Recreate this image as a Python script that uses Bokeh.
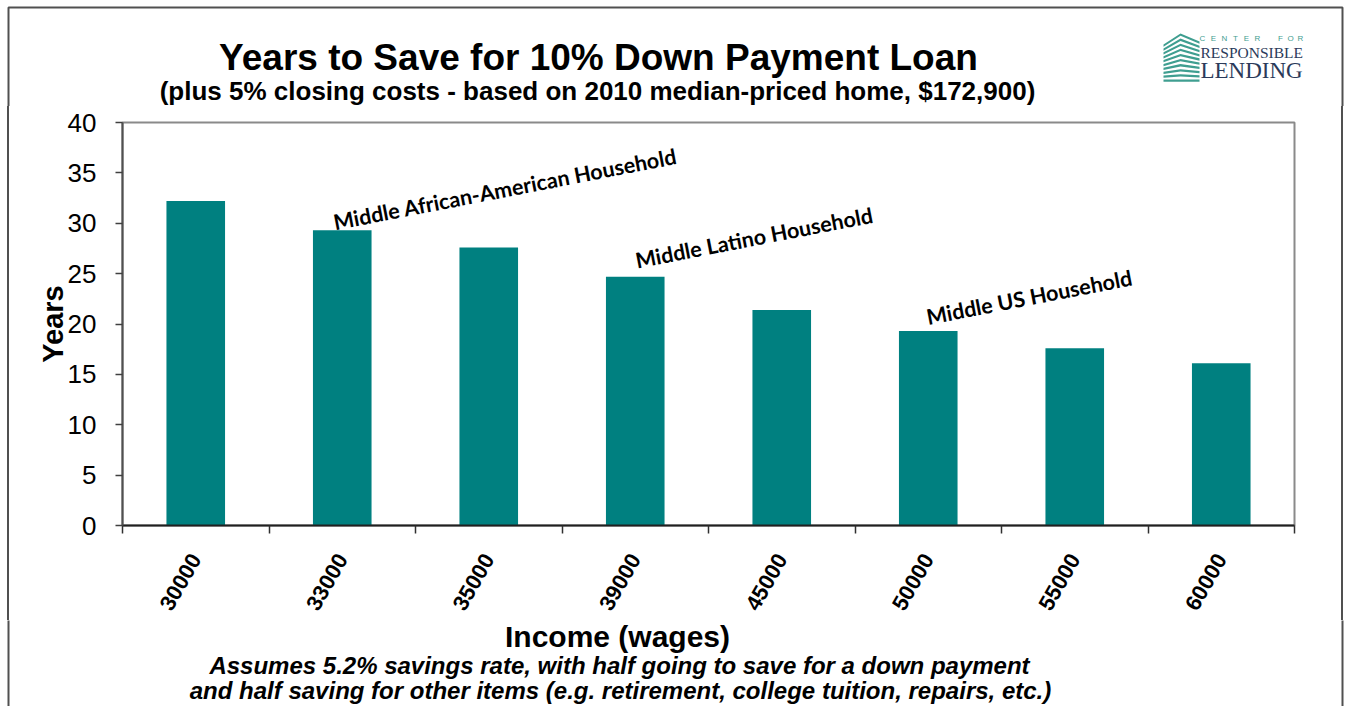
import math
from bokeh.plotting import figure
from bokeh.layouts import column, row
from bokeh.models import (LabelSet, FixedTicker, Range1d, ColumnDataSource, LinearAxis, Div)
from bokeh.core.properties import value
from bokeh.embed import file_html
from bokeh.resources import INLINE

# ---------------- data ----------------
incomes = ["30000", "33000", "35000", "39000", "45000", "50000", "55000", "60000"]
years = [32.2, 29.3, 27.6, 24.7, 21.4, 19.3, 17.6, 16.1]
y_ticks = [0, 5, 10, 15, 20, 25, 30, 35, 40]

notes = ["Middle African-American Household", "Middle Latino Household", "Middle US Household"]
note_income = ["33000", "39000", "50000"]
note_y = [29.3, 25.5, 19.9]

title = "Years to Save for 10% Down Payment Loan"
subtitle = "(plus 5% closing costs - based on 2010 median-priced home, $172,900)"
x_title = "Income (wages)"
y_title = "Years"
footer = ["Assumes 5.2% savings rate, with half going to save for a down payment",
          "and half saving for other items (e.g. retirement, college tuition, repairs, etc.)"]
logo_small = "CENTER FOR"
logo_big = ["RESPONSIBLE", "LENDING"]

# ---------------- layout constants (page pixels) ----------------
PW = 1348
TOP_H, MAIN_H, BOT_H = 106, 514, 86
STRIP_L, STRIP_R = 10, 9
MAIN_W = PW - STRIP_L - STRIP_R
FL, FT, FR, FB = 122, 122, 1294, 525      # plot frame in page pixels
BORDER = "#505050"
teal_logo = "#3f9e90"
navy = "#2b3a5a"
FONT = "Liberation Sans"
BASE_SHIFT = 0.3465                        # baseline correction, in em
note_dx = [-7, 2, 0]                       # pixel nudges of the note texts


def blank(w, h):
    f = figure(width=w, height=h, output_backend="svg", toolbar_location=None,
               x_range=Range1d(0, w), y_range=Range1d(h, 0),
               x_axis_type=None, y_axis_type=None, min_border=0,
               min_border_left=0, min_border_right=0, min_border_top=0, min_border_bottom=0)
    f.outline_line_color = None
    f.grid.visible = False
    return f


def txt(f, text, X, Y, size, style="bold", align="center", font=FONT, color="#000000"):
    f.text(x=[X], y=[Y - BASE_SHIFT * size], text=[text], text_font=value(font),
           text_font_size=value(f"{size}px"), text_font_style=style, text_align=align,
           text_baseline="alphabetic", text_color=color)


# ---------------- top band: titles + logo ----------------
top = blank(PW, TOP_H)
txt(top, title, 598, 70, 37)
txt(top, subtitle, 597, 100, 26)

stripe_xs, stripe_ys = [], []
for i in range(10):
    yp = 33 + 5.1 * i
    k = 1 - i / 9
    yl, yr, t = yp + 11 * k, yp + 8 * k, 2.3
    stripe_xs.append([1163, 1180, 1199, 1199, 1180, 1163])
    stripe_ys.append([yl, yp, yr, yr + t, yp + t, yl + t])
top.patches(stripe_xs, stripe_ys, fill_color=teal_logo, line_color=None)

cf_letters = [c for c in logo_small if c != " "]
cf_x = [1202, 1213, 1224, 1235, 1246, 1257, 1280, 1290, 1300]
top.text(x=cf_x, y=[41 - BASE_SHIFT * 8] * len(cf_x), text=cf_letters, text_font=value(FONT),
         text_font_size=value("8px"), text_align="center", text_baseline="alphabetic",
         text_color=teal_logo)
txt(top, logo_big[0], 1200, 57, 15.5, style="normal", align="left", font="Liberation Serif", color=navy)
txt(top, logo_big[1], 1200, 78, 23, style="normal", align="left", font="Liberation Serif", color=navy)

top.line([8, 8, 1342, 1342], [TOP_H + 2, 7, 7, TOP_H + 2], line_color=BORDER, line_width=2)

# ---------------- main chart ----------------
xpos = list(range(1, len(incomes) + 1))
src = ColumnDataSource(dict(x=xpos, top=years, label=incomes))

p = figure(width=MAIN_W, height=MAIN_H, output_backend="svg", toolbar_location=None,
           x_range=Range1d(0.5, len(incomes) + 0.5), y_range=Range1d(0, 40),
           min_border_left=FL - STRIP_L, min_border_top=FT - TOP_H,
           min_border_right=(STRIP_L + MAIN_W) - FR, min_border_bottom=(TOP_H + MAIN_H) - FB,
           x_axis_type=None, y_axis_type=None)

p.vbar(x="x", top="top", width=0.4, source=src, fill_color="#008080", line_color=None)

xaxis = LinearAxis(ticker=FixedTicker(ticks=xpos, minor_ticks=[i + 0.5 for i in range(len(incomes) + 1)]))
xaxis.major_label_overrides = {x: lab_ for x, lab_ in zip(xpos, incomes)}
xaxis.major_tick_line_color = None
xaxis.major_tick_out = 8
xaxis.major_tick_in = 0
xaxis.minor_tick_out = 8
xaxis.minor_tick_in = 0
xaxis.minor_tick_line_color = "#303030"
xaxis.minor_tick_line_width = 1.5
xaxis.axis_line_color = "#202020"
xaxis.axis_line_width = 2
xaxis.major_label_orientation = math.pi / 3
xaxis.major_label_standoff = 22
xaxis.major_label_text_font = FONT
xaxis.major_label_text_font_style = "bold"
xaxis.major_label_text_font_size = "22px"
xaxis.major_label_text_color = "#000000"
p.add_layout(xaxis, "below")

yaxis = LinearAxis(ticker=FixedTicker(ticks=y_ticks, minor_ticks=[]))
yaxis.major_tick_out = 7
yaxis.major_tick_in = 0
yaxis.major_tick_line_color = "#404040"
yaxis.major_tick_line_width = 1.5
yaxis.axis_line_color = "#505050"
yaxis.axis_line_width = 2
yaxis.major_label_standoff = 19
yaxis.major_label_text_font = FONT
yaxis.major_label_text_font_size = "26px"
yaxis.major_label_text_color = "#000000"
yaxis.axis_label = y_title
yaxis.axis_label_text_font = FONT
yaxis.axis_label_text_font_style = "bold"
yaxis.axis_label_text_font_size = "29px"
yaxis.axis_label_text_color = "#000000"
yaxis.axis_label_standoff = -4
p.add_layout(yaxis, "left")

p.ygrid.ticker = FixedTicker(ticks=y_ticks)
p.ygrid.grid_line_color = "#b8b8b8"
p.ygrid.grid_line_width = 1.5
p.xgrid.visible = False
p.outline_line_color = "#8a8a8a"
p.outline_line_width = 2

nsrc = ColumnDataSource(dict(x=[incomes.index(c) + 1 for c in note_income], y=note_y,
                             text=notes, dx=note_dx))
p.add_layout(LabelSet(x="x", y="y", text="text", source=nsrc, angle=11, angle_units="deg",
                      x_offset="dx", text_font=value("Lato"), text_font_style="bold",
                      text_font_size=value("21.5px"), text_color="#000000", text_baseline="alphabetic"))

# side strips carrying the slide frame
left_strip = Div(text="", width=STRIP_L, height=MAIN_H, margin=(0, 0, 0, 0),
                 styles={"background": f"linear-gradient(to right, transparent 7px, {BORDER} 7px, {BORDER} 9px, transparent 9px)"})
right_strip = Div(text="", width=STRIP_R, height=MAIN_H, margin=(0, 0, 0, 0),
                  styles={"background": f"linear-gradient(to right, transparent 2px, {BORDER} 2px, {BORDER} 4px, transparent 4px)"})

# ---------------- bottom band: x title + footnote ----------------
bot = blank(PW, BOT_H)
txt(bot, x_title, 617, 26, 30)
txt(bot, footer[0], 619, 53, 24, style="bold italic")
txt(bot, footer[1], 620, 78, 24, style="bold italic")
bot.line([8, 8], [-2, BOT_H + 2], line_color=BORDER, line_width=2)
bot.line([1342, 1342], [-2, BOT_H + 2], line_color=BORDER, line_width=2)

layout = column(top, row(left_strip, p, right_strip, spacing=0), bot, spacing=0)
open("out.html", "w").write(file_html(layout, INLINE))
